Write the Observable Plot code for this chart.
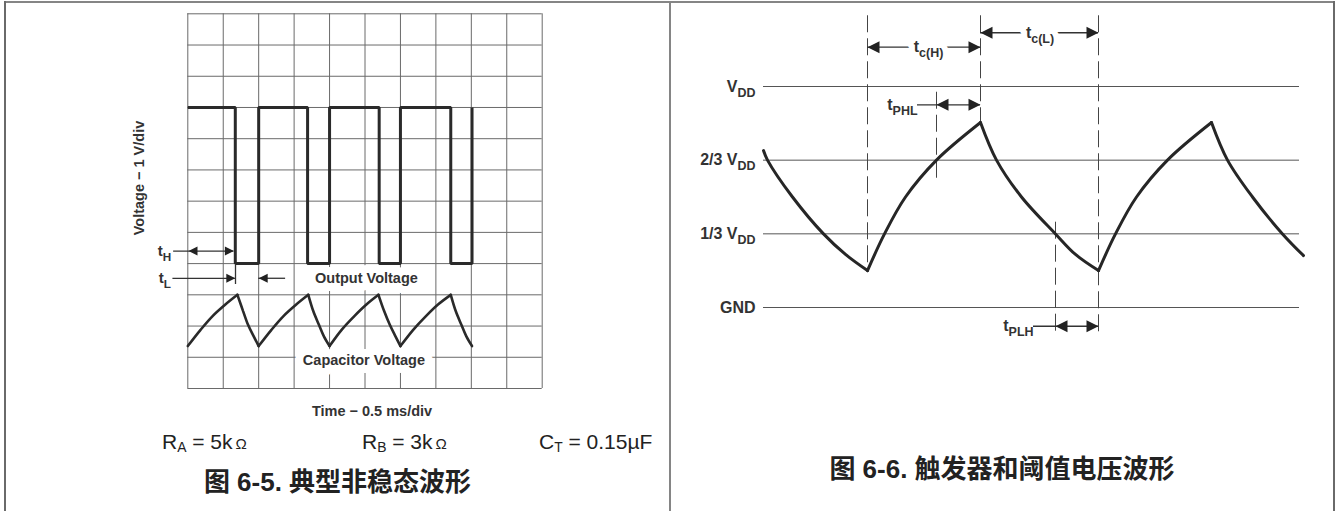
<!DOCTYPE html>
<html><head><meta charset="utf-8">
<script src="https://cdn.jsdelivr.net/npm/d3@7"></script>
<script src="https://cdn.jsdelivr.net/npm/@observablehq/plot@0.6"></script>
<style>
html,body{margin:0;padding:0;background:#fff;}
#root{position:relative;width:1336px;height:511px;overflow:hidden;font-family:"Liberation Sans","Noto Sans CJK SC",Arial,sans-serif;color:#222;}
.panel{position:absolute;top:0;}
.lbl{position:absolute;white-space:nowrap;line-height:1;}
.c{transform:translate(-50%,-50%);}
.l{transform:translate(0,-50%);}
.b{font-weight:bold;}
.border{position:absolute;}
sub{font-size:0.66em;vertical-align:-0.28em;line-height:0;}
.ohm{font-size:0.72em;margin-left:3px;}
</style></head><body><div id="root"></div>
<script>
// ---------- Figure 6-5 (left): oscilloscope view ----------
const gridTimesMs = [0, 0.5, 1, 1.5, 2, 2.5, 3, 3.5, 4, 4.5, 5];
const gridVolts = [0, 1, 2, 3, 4, 5, 6, 7, 8, 9, 10, 11, 12];
const outputEdgeMs = [0, 0.67, 1.00, 1.69, 2.00, 2.70, 3.00, 3.71, 4.01];
const outputLevelV = [9, 4, 9, 4, 9, 4, 9, 4, 9];
const capTimeMs = [
  0, 0.18, 0.35, 0.53, 0.70,   0.70, 0.78, 0.85, 0.93, 1.00,
  1.00, 1.18, 1.35, 1.53, 1.70,   1.70, 1.77, 1.85, 1.92, 2.00,
  2.00, 2.17, 2.35, 2.52, 2.69,   2.69, 2.77, 2.85, 2.93, 3.00,
  3.00, 3.18, 3.36, 3.53, 3.71,   3.71, 3.78, 3.86, 3.93, 4.01];
const capVoltV = [
  1.36, 1.88, 2.32, 2.69, 3.00,   3.00, 2.48, 2.04, 1.67, 1.36,
  1.36, 1.88, 2.32, 2.69, 3.00,   3.00, 2.48, 2.04, 1.67, 1.36,
  1.36, 1.88, 2.32, 2.69, 3.00,   3.00, 2.48, 2.04, 1.67, 1.36,
  1.36, 1.88, 2.32, 2.69, 3.00,   3.00, 2.48, 2.04, 1.67, 1.36];
const capSegment = capTimeMs.map((_, i) => Math.floor(i / 5));
const traceLabel = ["Output Voltage", "Capacitor Voltage"];
const traceLabelMs = [2.52, 2.485];
const traceLabelV = [3.53, 0.9];
const timingLabel = ["t_{H}", "t_{L}"];
const timingLabelMs = [-0.235, -0.24];
const timingLabelV = [4.40, 3.53];
const timingShaftFrom = [-0.2, -0.21, 1.00];
const timingShaftTo = [0.65, 0.67, 1.38];
const timingShaftV = [4.40, 3.53, 3.53];
const timingLeftHeadMs = [0.01, 1.00];
const timingLeftHeadV = [4.40, 3.53];
const timingRightHeadMs = [0.65, 0.67];
const timingRightHeadV = [4.40, 3.53];
const timingTickMs = [0.673];
const timingTickTop = [3.94];
const timingTickBottom = [3.33];

// ---------- Figure 6-6 (right): trigger / threshold ----------
const levelValue = [1, 2 / 3, 1 / 3, 0];
const levelLabel = ["V_{DD}", "2/3 V_{DD}", "1/3 V_{DD}", "GND"];
const levelStart = 0, levelEnd = 536;
const waveTime = [
  0, 4, 29, 60, 82, 104,
  104, 121, 142, 173, 217,
  217, 233, 258, 292, 312, 335,
  335, 352, 373, 404, 448,
  448, 464, 489, 519, 540];
const waveVolt = [
  0.71, 0.667, 0.5, 0.333, 0.24, 0.167,
  0.167, 0.333, 0.5, 0.667, 0.837,
  0.837, 0.667, 0.5, 0.333, 0.24, 0.167,
  0.167, 0.333, 0.5, 0.667, 0.837,
  0.837, 0.667, 0.5, 0.333, 0.235];
const waveSegment = [0,0,0,0,0,0, 1,1,1,1,1, 2,2,2,2,2,2, 3,3,3,3,3, 4,4,4,4,4];
const markerTime = [104, 217, 335, 173, 292];
const markerTop = [1.32, 1.32, 1.32, 0.974, 0.386];
const markerBottom = [0.167, 0.837, -0.118, 0.567, -0.118];
const dimLabel = ["t_{c(H)}", "t_{c(L)}", "t_{PHL}", "t_{PLH}"];
const dimLabelTime = [165, 276.5, 154, 270];
const dimAnchor = ["middle", "middle", "end", "end"];
const dimVolt = [1.178, 1.243, 0.917, -0.085];
const dimFrom = [104, 217, 154, 270];
const dimTo = [217, 335, 217, 335];
const dimLeftHead = [104, 217, 173, 292];
const dimRightHead = [217, 335, 217, 335];

const FONT = "Liberation Sans, Arial, sans-serif";
const INK = "#262626";
const ns = "http://www.w3.org/2000/svg";

function head(dir, len, half) {
  return {draw(ctx) { ctx.moveTo(0, 0); ctx.lineTo(-dir * len, -half); ctx.lineTo(-dir * len, half); ctx.closePath(); }};
}
function subscripts(svg) {
  for (const t of svg.querySelectorAll("text")) {
    const s = t.textContent;
    if (!s.includes("_{")) continue;
    const parts = s.split(/(_\{[^}]*\})/).filter(p => p);
    while (t.firstChild) t.removeChild(t.firstChild);
    let prevSub = false;
    for (const p of parts) {
      const ts = document.createElementNS(ns, "tspan");
      if (p.startsWith("_{")) {
        ts.textContent = p.slice(2, -1);
        ts.setAttribute("font-size", "0.78em");
        ts.setAttribute("dy", "0.4em");
        prevSub = true;
      } else {
        ts.textContent = p;
        if (prevSub) ts.setAttribute("dy", "-0.31em");
        prevSub = false;
      }
      t.appendChild(ts);
    }
  }
}

const root = document.getElementById("root");

// ----- left plot -----
const outputData = outputEdgeMs.map((t, i) => ({t, v: outputLevelV[i]}));
const capData = capTimeMs.map((t, i) => ({t, v: capVoltV[i], seg: capSegment[i]}));
const traceLabels = traceLabel.map((s, i) => ({s, t: traceLabelMs[i], v: traceLabelV[i]}));
const timingLabels = timingLabel.map((s, i) => ({s, t: timingLabelMs[i], v: timingLabelV[i]}));
const timingShafts = timingShaftFrom.map((a, i) => ({a, b: timingShaftTo[i], v: timingShaftV[i]}));
const lHeads = timingLeftHeadMs.map((t, i) => ({t, v: timingLeftHeadV[i]}));
const rHeads = timingRightHeadMs.map((t, i) => ({t, v: timingRightHeadV[i]}));
const ticks = timingTickMs.map((t, i) => ({t, a: timingTickTop[i], b: timingTickBottom[i]}));

const left = Plot.plot({
  width: 668, height: 511,
  marginLeft: 187.3, marginRight: 126.3, marginTop: 13.3, marginBottom: 123,
  x: {domain: [0, 5], axis: null},
  y: {domain: [0, 12], axis: null},
  style: {background: "transparent", overflow: "visible"},
  marks: [
    Plot.ruleX(gridTimesMs, {x: d => d, stroke: "#6a6a6a", strokeWidth: 1}),
    Plot.ruleY(gridVolts, {y: d => d, stroke: "#6a6a6a", strokeWidth: 1}),
    Plot.text(traceLabels, {x: "t", y: "v", text: "s", fill: "white", stroke: "white", strokeWidth: 16, strokeLinejoin: "round", fontFamily: FONT, fontWeight: "bold", fontSize: 14.5}),
    Plot.line(outputData, {x: "t", y: "v", curve: "step-after", stroke: "#2a2a2a", strokeWidth: 3, strokeLinejoin: "miter", strokeLinecap: "butt"}),
    Plot.line(capData, {x: "t", y: "v", z: "seg", curve: "catmull-rom", stroke: "#2a2a2a", strokeWidth: 2.6, strokeLinejoin: "miter"}),
    Plot.text(traceLabels, {x: "t", y: "v", text: "s", fill: "#333", fontFamily: FONT, fontWeight: "bold", fontSize: 14.5}),
    Plot.ruleY(timingShafts, {y: "v", x1: "a", x2: "b", stroke: "#333", strokeWidth: 1.3}),
    Plot.ruleX(ticks, {x: "t", y1: "a", y2: "b", stroke: "#333", strokeWidth: 1.3}),
    Plot.dot(lHeads, {x: "t", y: "v", symbol: head(-1, 9, 4.5), fill: "#222", stroke: "none"}),
    Plot.dot(rHeads, {x: "t", y: "v", symbol: head(1, 9, 4.5), fill: "#222", stroke: "none"}),
    Plot.text(timingLabels, {x: "t", y: "v", text: "s", textAnchor: "end", fill: "#333", fontFamily: FONT, fontWeight: "bold", fontSize: 15})
  ]
});
subscripts(left);
const lp = document.createElement("div");
lp.className = "panel"; lp.style.left = "0px";
lp.appendChild(left);
root.appendChild(lp);

// ----- right plot -----
const levels = levelValue.map((v, i) => ({v, s: levelLabel[i]}));
const wave = waveTime.map((t, i) => ({t, v: waveVolt[i], seg: waveSegment[i]}));
const markers = markerTime.map((t, i) => ({t, a: markerTop[i], b: markerBottom[i]}));
const dims = dimLabel.map((s, i) => ({s, lt: dimLabelTime[i], anchor: dimAnchor[i], v: dimVolt[i], from: dimFrom[i], to: dimTo[i], lh: dimLeftHead[i], rh: dimRightHead[i]}));

const right = Plot.plot({
  width: 668, height: 511,
  marginLeft: 95, marginRight: 33, marginTop: 86, marginBottom: 204,
  x: {domain: [0, 540], axis: null},
  y: {domain: [0, 1], axis: null},
  style: {background: "transparent", overflow: "visible"},
  marks: [
    Plot.ruleY(levels, {y: "v", x1: levelStart, x2: levelEnd, stroke: "#555", strokeWidth: 1}),
    Plot.text(levels, {x: levelStart, y: "v", text: "s", textAnchor: "end", dx: -8, fill: "#333", fontFamily: FONT, fontWeight: "bold", fontSize: 16}),
    Plot.ruleX(markers, {x: "t", y1: "a", y2: "b", stroke: "#444", strokeWidth: 1, strokeDasharray: "17,6"}),
    Plot.line(wave, {x: "t", y: "v", z: "seg", curve: "catmull-rom", stroke: "#262626", strokeWidth: 3, strokeLinejoin: "miter"}),
    Plot.ruleY(dims, {y: "v", x1: "from", x2: "to", stroke: "#333", strokeWidth: 1.4}),
    Plot.text(dims, {filter: d => d.anchor === "middle", x: "lt", y: "v", text: "s", fill: "white", stroke: "white", strokeWidth: 12, strokeLinejoin: "round", fontFamily: FONT, fontWeight: "bold", fontSize: 16}),
    Plot.text(dims, {filter: d => d.anchor === "middle", x: "lt", y: "v", text: "s", fill: "#333", fontFamily: FONT, fontWeight: "bold", fontSize: 16}),
    Plot.text(dims, {filter: d => d.anchor === "end", x: "lt", y: "v", text: "s", textAnchor: "end", fill: "#333", fontFamily: FONT, fontWeight: "bold", fontSize: 16}),
    Plot.dot(dims, {x: "lh", y: "v", symbol: head(-1, 12, 6), fill: "#222", stroke: "none"}),
    Plot.dot(dims, {x: "rh", y: "v", symbol: head(1, 12, 6), fill: "#222", stroke: "none"})
  ]
});
subscripts(right);
const rp = document.createElement("div");
rp.className = "panel"; rp.style.left = "668px";
rp.appendChild(right);
root.appendChild(rp);

// ----- texts outside the plotting frames -----
function addLabel(html, x, y, cls, extra) {
  const d = document.createElement("div");
  d.className = "lbl " + cls;
  d.style.left = x + "px"; d.style.top = y + "px";
  if (extra) Object.assign(d.style, extra);
  d.innerHTML = html;
  root.appendChild(d);
  return d;
}
addLabel("Time − 0.5 ms/div", 372, 411, "c b", {fontSize: "14.5px", color: "#333"});
addLabel("Voltage − 1 V/div", 139, 178, "b", {fontSize: "14.5px", color: "#333", transform: "translate(-50%,-50%) rotate(-90deg)"});
addLabel("R<sub>A</sub> = 5k<span class='ohm'>Ω</span>", 162, 441, "l", {fontSize: "21px"});
addLabel("R<sub>B</sub> = 3k<span class='ohm'>Ω</span>", 362, 441, "l", {fontSize: "21px"});
addLabel("C<sub>T</sub> = 0.15µF", 539, 441, "l", {fontSize: "21px"});
addLabel("图 6-5. 典型非稳态波形", 337.5, 482, "c b", {fontSize: "26px"});
addLabel("图 6-6. 触发器和阈值电压波形", 1002, 469, "c b", {fontSize: "26px"});

// ----- panel frame -----
function addBorder(x, y, w, h, c) {
  const d = document.createElement("div");
  d.className = "border";
  Object.assign(d.style, {left: x + "px", top: y + "px", width: w + "px", height: h + "px", background: c});
  root.appendChild(d);
}
addBorder(4, 1, 1331, 2, "#858585");
addBorder(4, 1, 2, 510, "#6a6a6a");
addBorder(669, 1, 2, 510, "#858585");
addBorder(1333, 1, 2, 510, "#6a6a6a");
</script></body></html>
